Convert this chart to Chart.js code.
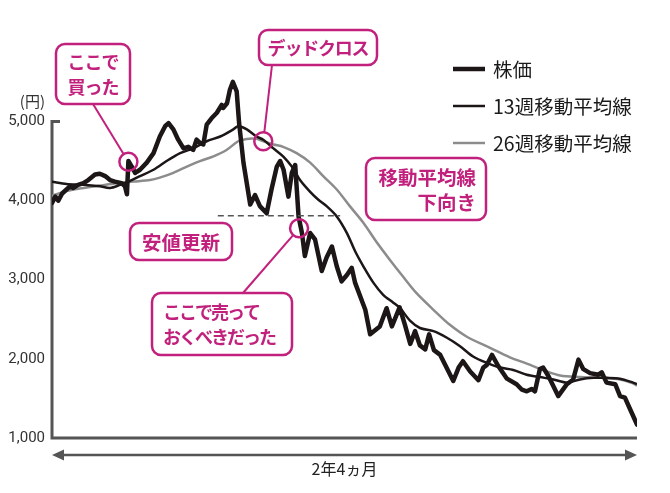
<!DOCTYPE html>
<html lang="ja">
<head>
<meta charset="utf-8">
<script src="https://cdn.jsdelivr.net/npm/chart.js@4.4.1/dist/chart.umd.min.js"></script>
<style>
  html, body { margin: 0; padding: 0; background: #fff; }
  #wrap { width: 670px; height: 493px; position: relative; }
</style>
</head>
<body>
<div id="wrap"><canvas id="chart"></canvas></div>
<script>
// 株価（週足）と移動平均線：x は週、y は円
const priceWeeks = [0, 0.7, 1.3, 2.1, 3, 3.7, 4.4, 5.4, 6.5, 7.5, 8.9, 9.9, 11, 12, 13, 14.4, 15.1, 15.5, 15.8, 16.5,
  17.2, 18.2, 19.6, 21, 22.3, 23.4, 24.1, 25.1, 26.1, 27.2, 28.2, 29.2, 29.9, 30.6, 31.3, 32, 33, 34.1, 35.1, 35.4,
  36.2, 36.8, 37.4, 38.2, 38.7, 39.6, 41, 42, 43, 44.4, 45.4, 46.5, 47.2, 47.9, 48.9, 49.6, 50.3, 51, 51.7, 52.3,
  53.4, 54.4, 55.8, 56.8, 57.9, 58.9, 59.9, 61, 62, 62.7, 64.8, 65.8, 67.8, 69.2, 70.3, 71.9, 73, 74.1, 75.1, 76.1,
  77.2, 78, 79, 80.3, 81.6, 83, 84.1, 85, 86.5, 88.2, 89.2, 89.9, 91, 92.3, 94.1, 96.1, 97.2, 98.2, 99.2, 99.9,
  100.9, 101.6, 102.7, 104.7, 106.5, 107.8, 108.9, 109.9, 111.3, 113, 113.7, 114.7, 116.5, 117.5, 118.5, 119.6, 121];
const priceValues = [3970, 4050, 4000, 4090, 4140, 4180, 4160, 4200, 4220, 4260, 4330, 4340, 4310, 4260, 4240, 4220, 4180, 4080, 4500, 4430,
  4350, 4390, 4480, 4600, 4810, 4940, 4980, 4900, 4770, 4660, 4680, 4640, 4770, 4730, 4710, 4960, 5040, 5110, 5210, 5170,
  5230, 5400, 5500, 5380, 4980, 4480, 3950, 4070, 3930, 3840, 4140, 4430, 4500, 4390, 4050, 4350, 4450, 3800, 3590, 3300,
  3590, 3510, 3110, 3280, 3420, 3170, 2980, 3060, 3150, 2960, 2620, 2310, 2410, 2640, 2410, 2650, 2430, 2190, 2350, 2170,
  2120, 2310, 2110, 2050, 1890, 1720, 1890, 1970, 1840, 1730, 1890, 1920, 2050, 1910, 1750, 1680, 1610, 1590, 1620, 1590,
  1870, 1890, 1780, 1530, 1680, 1740, 1990, 1870, 1820, 1800, 1830, 1700, 1680, 1530, 1510, 1360, 1170];

const ma13Weeks = [0, 3, 6.5, 9.9, 12, 14.1, 15.8, 18.2, 21, 23.7, 26.5, 29.2, 32, 34.8, 37.5, 38.5, 40.3, 42.3, 43.7, 45.8,
  47.8, 49.6, 51.3, 53.4, 55.1, 56.8, 58.9, 61, 62.7, 64.4, 66.5, 68.5, 70.6, 72, 74.1, 76.1, 78.9, 81.6, 84.4, 87.1,
  89.9, 92.7, 95.4, 98.2, 100.9, 103.7, 106.5, 109.2, 112, 114.7, 117.5, 120.2, 121];
const ma13Values = [4240, 4210, 4200, 4180, 4160, 4200, 4240, 4310, 4390, 4500, 4600, 4660, 4750, 4810, 4900, 4940, 4900, 4810, 4770, 4660,
  4560, 4430, 4260, 4110, 4010, 3930, 3800, 3590, 3360, 3170, 2960, 2810, 2710, 2640, 2480, 2390, 2350, 2270, 2160, 2030,
  1950, 1890, 1860, 1800, 1770, 1740, 1700, 1740, 1760, 1760, 1750, 1700, 1680];

const ma26Weeks = [0, 3, 6.5, 9.9, 13.4, 16.8, 20.3, 22.3, 25.1, 27.9, 30.6, 33.4, 36.1, 38.5, 40.3, 42.3, 43.7, 45.8, 47.8, 50.6,
  53.4, 56.1, 58.9, 61.6, 64.4, 67.2, 69.9, 72.6, 75.4, 78.9, 82.3, 85.8, 90.6, 94.7, 98.2, 102, 105.1, 109.2, 113.4, 117.5,
  120.2, 121];
const ma26Values = [4060, 4120, 4160, 4190, 4220, 4240, 4260, 4290, 4350, 4430, 4500, 4560, 4640, 4750, 4780, 4780, 4750, 4710, 4680, 4600,
  4480, 4310, 4140, 3930, 3720, 3470, 3250, 3040, 2830, 2620, 2430, 2280, 2140, 2020, 1940, 1850, 1790, 1770, 1760, 1740,
  1690, 1660];

const yTicks = [1000, 2000, 3000, 4000, 5000];
const seriesLabels = ['株価', '13週移動平均線', '26週移動平均線'];
const periodLabel = '2年4ヵ月';
const unitLabel = '(円)';

const MAGENTA = '#c1207c';
const AXIS = '#555555';
const JP = '"Noto Sans CJK JP", "Noto Sans", sans-serif';

// 注記（丸は週・円の位置、箱はピクセル）
const notes = [
  { lines: ['ここで', '買った'], box: [56, 44, 74, 60], align: 'center', size: 18, spacing: -1,
    mark: [15.8, 4490], from: [93, 104] },
  { lines: ['デッドクロス'], box: [259, 30, 118, 35], align: 'center', size: 18, spacing: -1.2,
    mark: [43.7, 4750], from: [272, 65] },
  { lines: ['移動平均線', '下向き'], box: [366, 158, 120, 62], align: 'right', size: 19.5, spacing: 0 },
  { lines: ['安値更新'], box: [130, 223, 102, 37], align: 'center', size: 19.5, spacing: 0 },
  { lines: ['ここで売って', 'おくべきだった'], box: [152, 293, 140, 62], align: 'left', size: 18, spacing: -2,
    mark: [51.1, 3650], from: [243, 293] }
];
const lowLine = { value: 3810, fromWeek: 34.3, toWeek: 59.6 };

function pairs(xs, ys) {
  return xs.map((x, i) => ({ x: x, y: ys[i] }));
}

function roundRect(ctx, x, y, w, h, r) {
  ctx.beginPath();
  ctx.moveTo(x + r, y);
  ctx.lineTo(x + w - r, y);
  ctx.arcTo(x + w, y, x + w, y + r, r);
  ctx.lineTo(x + w, y + h - r);
  ctx.arcTo(x + w, y + h, x + w - r, y + h, r);
  ctx.lineTo(x + r, y + h);
  ctx.arcTo(x, y + h, x, y + h - r, r);
  ctx.lineTo(x, y + r);
  ctx.arcTo(x, y, x + r, y, r);
  ctx.closePath();
}

// 軸・矢印・期間ラベル
const axesPlugin = {
  id: 'axesPlugin',
  beforeDatasetsDraw(chart) {
    const { ctx, scales: { x, y } } = chart;
    const yTop = y.getPixelForValue(yTicks[yTicks.length - 1]);
    const yBot = y.getPixelForValue(yTicks[0]);
    ctx.save();
    ctx.strokeStyle = AXIS;
    ctx.lineWidth = 3;
    ctx.beginPath();
    ctx.moveTo(x.left + 8, yTop);
    ctx.lineTo(x.left, yTop);
    ctx.lineTo(x.left, yBot);
    ctx.lineTo(x.right, yBot);
    ctx.stroke();

    // 期間の両矢印
    const ay = yBot + 17;
    ctx.lineWidth = 2.5;
    ctx.beginPath();
    ctx.moveTo(x.left + 6, ay);
    ctx.lineTo(x.right - 6, ay);
    ctx.stroke();
    ctx.fillStyle = AXIS;
    ctx.beginPath();
    ctx.moveTo(x.left, ay);
    ctx.lineTo(x.left + 12, ay - 5.5);
    ctx.lineTo(x.left + 12, ay + 5.5);
    ctx.closePath();
    ctx.fill();
    ctx.beginPath();
    ctx.moveTo(x.right, ay);
    ctx.lineTo(x.right - 12, ay - 5.5);
    ctx.lineTo(x.right - 12, ay + 5.5);
    ctx.closePath();
    ctx.fill();

    ctx.fillStyle = '#222';
    ctx.font = '16px ' + JP;
    ctx.textAlign = 'center';
    ctx.textBaseline = 'middle';
    ctx.fillText(periodLabel, (x.left + x.right) / 2, yBot + 31);

    ctx.textAlign = 'right';
    ctx.fillStyle = '#333';
    ctx.font = '15px ' + JP;
    ctx.fillText(unitLabel, x.left - 7, yTop - 20);
    ctx.restore();
  }
};

// 凡例と注記
const notesPlugin = {
  id: 'notesPlugin',
  afterDraw(chart) {
    const { ctx, scales: { x, y } } = chart;
    ctx.save();

    // 凡例
    const rows = [69, 106, 143];
    chart.data.datasets.forEach((ds, i) => {
      ctx.strokeStyle = ds.borderColor;
      ctx.lineWidth = ds.borderWidth;
      ctx.beginPath();
      ctx.moveTo(453, rows[i]);
      ctx.lineTo(485, rows[i]);
      ctx.stroke();
      ctx.fillStyle = '#1a1a1a';
      ctx.font = '19.5px ' + JP;
      ctx.textAlign = 'left';
      ctx.textBaseline = 'middle';
      ctx.fillText(ds.label, 493, rows[i] + 1);
    });

    // 安値ライン（破線）
    const ly = y.getPixelForValue(lowLine.value);
    ctx.strokeStyle = AXIS;
    ctx.lineWidth = 1.5;
    ctx.setLineDash([6, 4]);
    ctx.beginPath();
    ctx.moveTo(x.getPixelForValue(lowLine.fromWeek), ly);
    ctx.lineTo(x.getPixelForValue(lowLine.toWeek), ly);
    ctx.stroke();
    ctx.setLineDash([]);

    notes.forEach(n => {
      const [bx, by, bw, bh] = n.box;
      ctx.strokeStyle = MAGENTA;
      if (n.mark) {
        const cx = x.getPixelForValue(n.mark[0]);
        const cy = y.getPixelForValue(n.mark[1]);
        const r = 9;
        const dx = cx - n.from[0], dy = cy - n.from[1];
        const d = Math.hypot(dx, dy);
        ctx.lineWidth = 2;
        ctx.beginPath();
        ctx.moveTo(n.from[0], n.from[1]);
        ctx.lineTo(cx - dx / d * r, cy - dy / d * r);
        ctx.stroke();
        ctx.lineWidth = 2.5;
        ctx.beginPath();
        ctx.arc(cx, cy, r, 0, Math.PI * 2);
        ctx.stroke();
      }
      ctx.lineWidth = 2.5;
      roundRect(ctx, bx, by, bw, bh, 9);
      ctx.fillStyle = '#fff';
      ctx.fill();
      ctx.stroke();

      ctx.fillStyle = MAGENTA;
      ctx.font = 'bold ' + n.size + 'px ' + JP;
      ctx.letterSpacing = n.spacing + 'px';
      ctx.textBaseline = 'middle';
      ctx.textAlign = n.align;
      const tx = n.align === 'left' ? bx + 11 : n.align === 'right' ? bx + bw - 10 : bx + bw / 2;
      const step = 25;
      const top = by + bh / 2 - (n.lines.length - 1) * step / 2 + 1;
      n.lines.forEach((t, i) => ctx.fillText(t, tx, top + i * step));
      ctx.letterSpacing = '0px';
    });
    ctx.restore();
  }
};

const ctx = document.getElementById('chart').getContext('2d');
new Chart(ctx, {
  type: 'line',
  data: {
    datasets: [
      { label: seriesLabels[0], data: pairs(priceWeeks, priceValues), borderColor: '#1c1616', borderWidth: 4.5,
        pointRadius: 0, tension: 0, borderJoinStyle: 'round', borderCapStyle: 'round' },
      { label: seriesLabels[1], data: pairs(ma13Weeks, ma13Values), borderColor: '#1c1616', borderWidth: 2.5,
        pointRadius: 0, tension: 0.3, borderJoinStyle: 'round' },
      { label: seriesLabels[2], data: pairs(ma26Weeks, ma26Values), borderColor: '#8c8c8c', borderWidth: 2.5,
        pointRadius: 0, tension: 0.3, borderJoinStyle: 'round' }
    ]
  },
  options: {
    responsive: true,
    maintainAspectRatio: false,
    animation: false,
    layout: { padding: { top: 74, bottom: 55, left: 0, right: 33 } },
    plugins: {
      legend: { display: false },
      tooltip: { enabled: false }
    },
    scales: {
      x: { type: 'linear', min: 0, max: 121, display: false },
      y: {
        min: 1000,
        max: 5600,
        afterBuildTicks: s => { s.ticks = yTicks.map(v => ({ value: v })); },
        afterFit: s => { s.width = 52; },
        grid: { display: false, drawTicks: false },
        border: { display: false },
        ticks: {
          padding: 7,
          color: '#333',
          font: { family: 'Roboto', size: 15 },
          callback: v => v.toLocaleString('en-US')
        }
      }
    }
  },
  plugins: [axesPlugin, notesPlugin]
});
</script>
</body>
</html>
